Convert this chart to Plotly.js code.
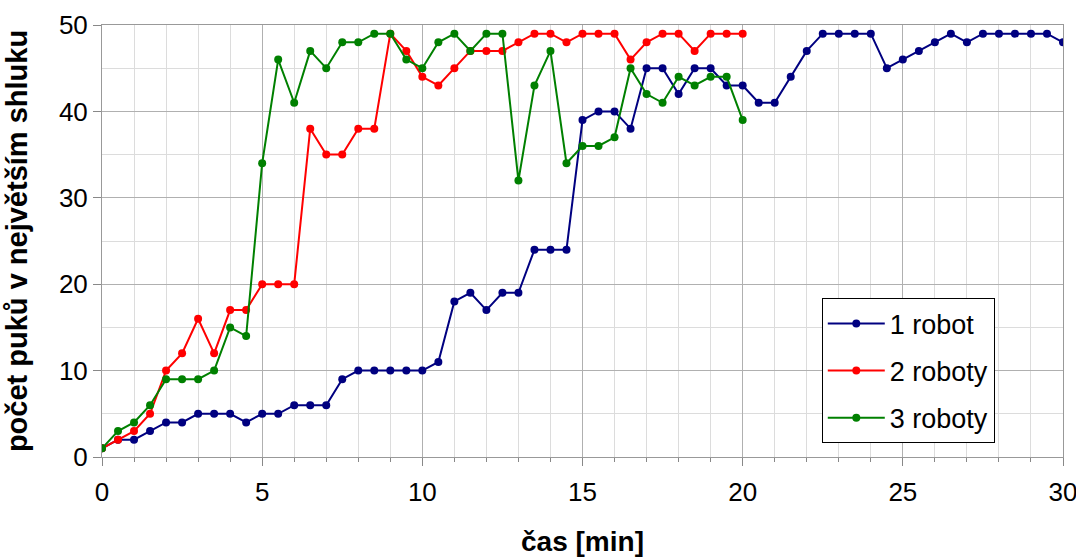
<!DOCTYPE html>
<html>
<head>
<meta charset="utf-8">
<script src="https://cdn.plot.ly/plotly-3.0.1.min.js"></script>
<style>html,body{margin:0;padding:0;background:#fff;}#chart{width:1076px;height:557px;}</style>
</head>
<body>
<div id="chart"></div>
<script>
const time1 = [0,0.5,1,1.5,2,2.5,3,3.5,4,4.5,5,5.5,6,6.5,7,7.5,8,8.5,9,9.5,10,10.5,11,11.5,12,12.5,13,13.5,14,14.5,15,15.5,16,16.5,17,17.5,18,18.5,19,19.5,20,20.5,21,21.5,22,22.5,23,23.5,24,24.5,25,25.5,26,26.5,27,27.5,28,28.5,29,29.5,30];
const robot1 = [1,2,2,3,4,4,5,5,5,4,5,5,6,6,6,9,10,10,10,10,10,11,18,19,17,19,19,24,24,24,39,40,40,38,45,45,42,45,45,43,43,41,41,44,47,49,49,49,49,45,46,47,48,49,48,49,49,49,49,49,48];
const time23 = [0,0.5,1,1.5,2,2.5,3,3.5,4,4.5,5,5.5,6,6.5,7,7.5,8,8.5,9,9.5,10,10.5,11,11.5,12,12.5,13,13.5,14,14.5,15,15.5,16,16.5,17,17.5,18,18.5,19,19.5,20];
const robot2 = [1,2,3,5,10,12,16,12,17,17,20,20,20,38,35,35,38,38,49,47,44,43,45,47,47,47,48,49,49,48,49,49,49,46,48,49,49,47,49,49,49];
const robot3 = [1,3,4,6,9,9,9,10,15,14,34,46,41,47,45,48,48,49,49,46,45,48,49,47,49,49,32,43,47,34,36,36,37,45,42,41,44,43,44,44,39];
const seriesNames = ['1 robot','2 roboty','3 roboty'];
const xTicks = [0,5,10,15,20,25,30];
const yTicks = [0,10,20,30,40,50];

const colors = ['#000080','#ff0000','#008000'];
const xs = [time1, time23, time23];
const ys = [robot1, robot2, robot3];
const traces = ys.map((y,i)=>({
  x: xs[i], y: y, name: seriesNames[i], type:'scatter', mode:'lines+markers',
  line:{color:colors[i], width:2}, marker:{color:colors[i], size:8},
  legendgroup:'g'+i
}));

const font = {family:'"Liberation Sans", Arial, sans-serif', color:'#000'};
const f = s => Object.assign({size:s}, font);
const layout = {
  width:1076, height:557,
  margin:{l:102, r:13, t:25, b:100},
  paper_bgcolor:'#fff', plot_bgcolor:'#fff',
  font: f(26),
  showlegend:true,
  legend:{x:0.749, y:0.367, xanchor:'left', yanchor:'top', bordercolor:'#000', borderwidth:1,
    bgcolor:'#fff', font:f(27), tracegroupgap:9, itemwidth:57},
  xaxis:{range:[0,30], tickvals:xTicks, ticktext:xTicks.map(String), ticks:'outside', ticklen:8, tickcolor:'#888',
    ticklabeloverflow:'allow', ticklabelstandoff:4,
    showgrid:true, gridcolor:'#b0b0b0', gridwidth:1,
    minor:{dtick:1, showgrid:true, gridcolor:'#dcdcdc', ticks:'outside', ticklen:4, tickcolor:'#888'},
    showline:true, linecolor:'#999', mirror:true, zeroline:false,
    tickfont:f(26),
    title:{text:'<b>čas [min]</b>', font:f(28), standoff:26}},
  yaxis:{range:[0,50], tickvals:yTicks, ticktext:yTicks.map(String), ticks:'outside', ticklen:8, tickcolor:'#888',
    showgrid:true, gridcolor:'#b0b0b0', gridwidth:1,
    minor:{dtick:5, showgrid:true, gridcolor:'#dcdcdc'},
    showline:true, linecolor:'#999', mirror:true, zeroline:false,
    tickfont:f(26),
    title:{text:'<b>počet puků v největším shluku</b>', font:f(29), standoff:22}}
};
Plotly.newPlot('chart', traces, layout, {displayModeBar:false, staticPlot:true});
</script>
</body>
</html>
